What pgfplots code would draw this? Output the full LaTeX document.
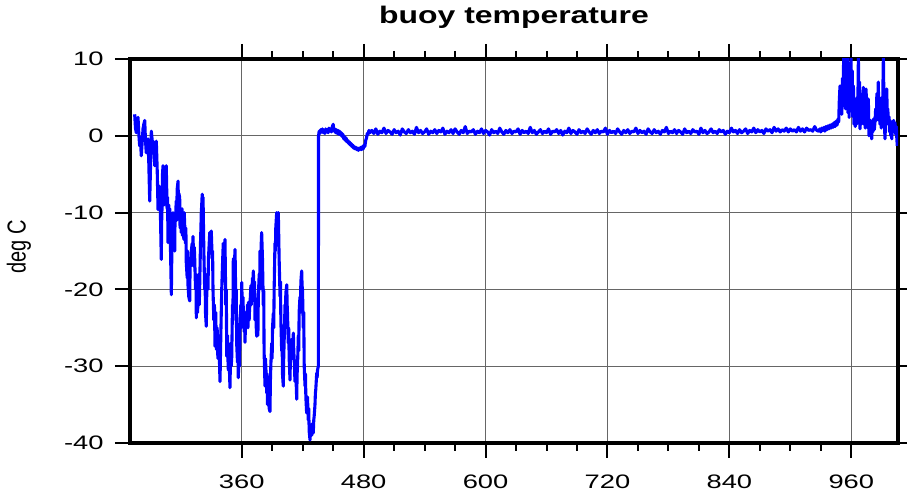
\documentclass[border=0pt]{standalone}
\usepackage{fontspec}
\setmainfont{Liberation Sans}
\newfontfamily\tickfont[FakeStretch=1.4]{Liberation Sans}
\newfontfamily\titlefont[FakeStretch=1.33]{Liberation Sans}
\usepackage{graphicx}
\usepackage{pgfplots}
\pgfplotsset{compat=1.18}
\begin{document}
\begin{tikzpicture}
\useasboundingbox (-130pt,-54pt) rectangle (777pt,443pt);
\begin{axis}[
  at={(0,0)}, anchor=south west,
  width=768pt, height=384pt, scale only axis,
  xmin=250, xmax=1006, ymin=-40, ymax=10,
  xtick={360,480,600,720,840,960},
  minor x tick num=3,
  ytick={-40,-30,-20,-10,0,10},
  grid=major,
  major grid style={black!60, line width=0.9pt},
  axis line style={line width=4pt, black},
  every tick/.style={line width=2pt, black},
  tick align=outside,
  major tick length=15pt,
  minor tick length=8pt,
  /pgf/number format/assume math mode=true,
  tick label style={font=\fontsize{19.5}{21}\selectfont\tickfont},
  xticklabel style={yshift=-13pt},
  yticklabel style={xshift=-8pt},
  title={buoy temperature},
  title style={font=\fontsize{24}{28}\selectfont\titlefont\bfseries, at={(axis description cs:0.5,1)}, anchor=base, yshift=29.7pt},
  ylabel={\scalebox{1}[1.3]{deg C}},
  ylabel style={font=\fontsize{20}{24}\selectfont, at={(axis description cs:-0.1445,0.51)}, anchor=center},
]
\addplot[blue, line width=3.1pt, line join=round] table {
x y
254.6 2.8
255.4 1.0
256.2 0.4
257.0 1.8
257.9 2.4
258.7 0.2
259.5 -1.3
260.3 -0.5
261.1 -2.6
262.0 -0.8
262.8 0.9
263.6 1.5
264.5 2.0
265.2 -0.5
266.0 -2.2
266.8 -1.0
267.7 -0.4
268.5 -3.5
269.4 -8.5
270.2 -4.0
271.0 0.6
271.8 -0.5
272.6 -1.7
273.5 -0.8
274.3 -3.9
275.1 -1.5
275.9 -0.7
276.8 -4.5
277.6 -9.6
278.4 -6.5
279.2 -7.0
280.0 -10.5
280.8 -16.1
281.2 -11.0
281.6 -9.0
282.0 -5.0
282.5 -3.9
283.3 -5.5
283.7 -9.0
284.1 -8.0
284.9 -5.0
285.3 -7.0
285.7 -3.9
286.5 -9.5
287.0 -8.0
287.4 -13.9
288.2 -9.0
288.6 -12.0
289.1 -9.5
289.9 -15.0
290.7 -20.7
291.1 -16.0
291.5 -14.0
292.3 -10.0
292.7 -14.0
293.2 -13.0
294.0 -15.0
294.4 -10.0
294.8 -11.0
295.5 -8.5
296.0 -11.0
296.4 -7.0
297.3 -5.9
297.7 -9.0
298.1 -7.5
298.9 -8.0
299.3 -12.0
299.7 -10.0
300.5 -12.6
301.3 -9.5
301.7 -13.0
302.2 -10.5
303.0 -13.5
303.4 -10.0
303.8 -11.5
304.6 -14.0
305.0 -12.0
305.4 -16.5
306.3 -18.5
306.7 -15.0
307.1 -19.5
307.9 -21.0
308.8 -21.5
309.2 -16.0
309.6 -17.0
310.4 -15.0
311.2 -14.0
311.6 -16.0
312.0 -13.1
312.9 -17.0
313.3 -14.5
313.7 -16.0
314.5 -20.0
314.9 -18.0
315.3 -23.7
316.1 -20.0
316.5 -23.0
316.9 -21.5
317.8 -18.0
318.2 -22.0
318.6 -19.5
319.4 -14.0
320.2 -10.0
321.1 -7.6
321.5 -9.0
321.9 -8.0
322.7 -15.0
323.5 -20.0
323.9 -18.0
324.3 -23.0
325.1 -24.8
325.5 -21.0
325.9 -18.0
326.8 -20.0
327.2 -16.0
327.6 -15.0
328.5 -12.6
329.2 -13.5
330.0 -12.4
330.9 -16.0
331.3 -15.0
331.7 -20.0
332.5 -24.0
333.1 -22.0
333.7 -27.4
334.4 -23.0
335.0 -27.8
335.8 -25.0
336.2 -28.0
336.6 -29.0
337.1 -26.0
337.6 -27.0
338.6 -32.0
339.0 -29.0
339.4 -26.0
340.3 -20.0
341.0 -17.0
341.8 -14.0
342.2 -18.0
342.6 -16.0
343.5 -13.5
344.3 -22.0
344.8 -20.0
345.2 -28.7
346.0 -26.0
346.4 -29.0
346.8 -30.5
347.6 -29.0
348.0 -31.0
348.4 -32.8
349.2 -27.0
349.6 -30.0
350.1 -29.0
350.9 -22.0
351.3 -24.0
351.7 -16.0
352.5 -18.0
353.0 -16.0
353.4 -14.8
354.2 -22.0
354.6 -20.0
355.0 -27.0
355.8 -29.5
356.2 -27.0
356.6 -31.5
357.4 -28.0
357.8 -30.0
358.3 -24.5
359.1 -22.0
359.5 -25.0
360.0 -19.1
360.8 -24.0
361.2 -21.0
361.5 -22.5
362.4 -25.5
362.8 -23.0
363.2 -26.9
364.0 -23.0
364.4 -25.0
364.9 -24.5
365.7 -22.0
366.1 -25.0
366.5 -21.7
367.3 -24.0
367.7 -22.5
368.1 -22.0
369.0 -19.5
369.4 -22.0
369.8 -21.0
370.6 -18.5
371.0 -20.0
371.4 -17.6
372.2 -21.0
372.6 -19.0
373.1 -24.0
373.9 -22.5
374.3 -25.0
374.7 -26.1
375.5 -24.0
375.9 -26.0
376.3 -21.0
377.2 -18.0
377.6 -20.0
378.0 -15.0
378.8 -16.0
379.2 -14.0
379.6 -12.6
380.4 -16.0
381.2 -22.0
381.6 -20.0
382.0 -28.0
382.9 -32.6
383.3 -29.0
383.7 -30.0
384.6 -33.5
385.0 -31.0
385.3 -35.0
386.1 -33.0
386.5 -34.5
387.0 -35.5
387.8 -35.9
388.2 -32.0
388.6 -30.0
389.5 -27.0
389.9 -29.0
390.3 -25.0
391.1 -23.1
391.5 -25.0
391.9 -20.0
392.7 -14.0
393.1 -15.0
393.5 -12.0
394.4 -10.0
394.8 -12.5
395.2 -11.0
396.0 -10.0
396.4 -13.0
396.8 -16.0
397.7 -20.9
398.1 -19.0
398.5 -24.0
399.3 -28.0
399.7 -26.0
400.1 -31.0
400.9 -32.6
401.3 -29.0
401.7 -27.0
402.6 -22.0
403.0 -24.0
403.4 -20.5
404.3 -19.4
404.7 -22.0
405.0 -23.0
405.8 -27.0
406.2 -25.0
406.7 -29.0
407.5 -31.8
407.9 -29.0
408.4 -28.0
409.2 -26.5
409.6 -29.0
410.0 -27.5
410.8 -25.7
411.2 -28.0
411.6 -29.0
412.4 -32.0
412.8 -30.0
413.3 -31.0
414.1 -34.3
414.5 -31.0
414.9 -30.0
415.7 -26.0
416.1 -28.0
416.5 -23.0
417.3 -21.0
417.7 -23.0
418.2 -19.0
419.0 -17.6
419.4 -19.5
419.8 -20.0
420.6 -25.0
421.0 -23.0
421.5 -30.0
422.3 -32.6
422.7 -31.0
423.1 -34.0
423.9 -36.1
424.3 -34.5
424.7 -34.0
425.5 -37.0
425.9 -35.5
426.4 -38.5
427.2 -39.6
427.6 -38.0
428.0 -38.5
428.9 -39.0
429.3 -37.5
429.6 -38.0
430.4 -38.7
430.9 -37.0
431.3 -36.5
432.1 -35.0
432.5 -33.5
432.9 -33.0
433.8 -30.9
434.2 -31.5
434.6 -30.5
435.4 -30.0
435.6 0.0
436.2 0.6
437.0 0.3
437.8 0.8
438.6 0.5
439.4 0.9
440.2 0.4
441.0 0.7
441.8 0.3
442.6 0.9
443.4 0.5
444.2 0.8
445.0 0.4
445.8 1.0
446.6 0.6
447.4 0.9
448.2 0.5
449.0 1.1
450.0 1.5
450.8 0.6
451.6 0.9
452.4 0.4
453.2 0.8
454.0 0.3
454.8 0.7
455.6 0.2
456.4 0.6
457.2 0.1
458.0 0.4
458.8 -0.1
459.6 0.2
460.4 -0.4
461.2 -0.1
462.0 -0.6
462.8 -0.3
463.6 -0.8
464.4 -0.6
465.2 -1.0
466.0 -0.8
466.8 -1.2
467.6 -1.0
468.4 -1.4
469.2 -1.2
470.0 -1.6
470.8 -1.4
471.6 -1.7
472.4 -1.5
473.2 -1.8
474.0 -1.6
474.8 -1.9
475.6 -1.6
476.4 -1.8
477.2 -1.5
478.0 -1.8
478.8 -1.4
479.6 -1.7
480.4 -1.2
481.2 -1.4
482.0 -0.6
482.8 -0.3
483.6 0.3
484.4 0.2
485.2 0.7
486 0.4
488 0.7
490 0.3
492 0.9
494 0.2
496 0.6
498 0.4
500 1.0
502 0.3
504 0.7
506 0.5
508 0.2
510 0.8
512 0.4
514 0.6
516 0.1
518 0.9
520 0.5
522 0.3
524 0.8
526 0.4
528 0.6
530 0.2
532 1.1
534 0.4
536 0.7
538 0.3
540 0.5
542 0.9
544 0.2
546 0.6
548 0.4
550 0.8
552 0.3
554 0.7
556 0.5
558 1.0
560 0.2
562 0.6
564 0.4
566 0.8
568 0.3
570 0.9
572 0.5
574 0.2
576 0.7
578 0.4
580 1.2
582 0.3
584 0.6
586 0.5
588 0.8
590 0.2
592 0.6
594 0.4
596 0.9
598 0.3
600 0.7
602 0.5
604 0.1
606 0.8
608 0.4
610 0.6
612 0.3
614 1.0
616 0.5
618 0.2
620 0.7
622 0.4
624 0.8
626 0.3
628 0.6
630 0.5
632 0.9
634 0.2
636 0.7
638 0.4
640 0.6
642 0.3
644 1.1
646 0.4
648 0.7
650 0.2
652 0.5
654 0.8
656 0.3
658 0.6
660 0.4
662 0.9
664 0.2
666 0.6
668 0.5
670 0.8
672 0.3
674 0.7
676 0.1
678 0.6
680 0.4
682 1.0
684 0.3
686 0.7
688 0.5
690 0.2
692 0.8
694 0.4
696 0.6
698 0.3
700 0.9
702 0.5
704 0.2
706 0.7
708 0.4
710 0.8
712 0.3
714 0.6
716 0.5
718 1.0
720 0.2
722 0.7
724 0.4
726 0.6
728 0.3
730 0.9
732 0.5
734 0.2
736 0.7
738 0.4
740 0.8
742 0.3
744 0.6
746 0.5
748 1.0
750 0.3
752 0.7
754 0.4
756 0.6
758 0.2
760 0.9
762 0.5
764 0.3
766 0.8
768 0.4
770 0.6
772 0.2
774 0.7
776 0.5
778 1.1
780 0.3
782 0.6
784 0.4
786 0.8
788 0.3
790 0.7
792 0.5
794 0.2
796 0.9
798 0.4
800 0.6
802 0.3
804 0.8
806 0.5
808 0.6
810 0.2
812 1.0
814 0.4
816 0.7
818 0.3
820 0.5
822 0.9
824 0.4
826 0.6
828 0.3
830 0.8
832 0.5
834 0.7
836 0.2
838 0.6
840 0.4
842 1.0
844 0.5
846 0.7
848 0.3
850 0.8
852 0.4
854 0.6
856 0.9
858 0.3
860 0.7
862 0.5
864 1.0
866 0.4
868 0.8
870 0.5
872 0.7
874 0.3
876 0.9
878 0.6
880 0.8
882 0.4
884 1.1
886 0.6
888 0.9
890 0.5
892 0.8
894 0.6
896 1.0
898 0.5
900 0.9
902 0.6
904 0.8
906 0.5
908 1.1
910 0.6
912 0.9
914 0.5
916 1.0
918 0.7
920 0.8
922 0.6
924 1.2
926 0.7
928 0.6
929 0.9
930 0.5
931 1.0
932 0.7
933 1.1
934 0.6
935 1.2
936 0.8
937 1.3
938 0.9
939 1.4
940 1.0
941 1.5
942 1.1
943 1.7
944 1.2
945 1.9
946 1.4
947 2.2
947.6 1.8
948.2 4.5
948.9 6.5
949.5 3.0
950.1 5.5
950.7 2.8
951.3 7.5
951.9 4.0
952.5 10.3
953.1 5.0
953.7 9.0
954.3 3.5
954.9 10.3
955.5 6.0
956.1 10.3
956.7 3.0
957.3 8.0
957.9 2.4
958.5 9.5
959.1 4.0
959.7 10.3
960.3 5.0
960.9 8.5
961.5 2.5
962.1 6.5
962.7 1.5
963.3 4.0
963.9 1.2
964.5 3.0
965.1 1.5
965.7 5.0
966.3 2.0
967.0 10.3
967.6 3.0
968.2 7.0
968.6 0.9
969.2 2.5
969.8 1.5
970.4 4.0
971.0 2.0
971.9 6.3
972.5 1.5
973.1 3.5
973.8 1.0
974.6 6.1
975.2 2.0
975.8 4.5
976.4 1.0
976.8 4.8
977.4 0.0
978.0 1.5
978.6 0.3
979.2 2.0
980.1 -0.4
980.7 1.5
981.3 0.5
982.0 2.2
982.7 0.8
983.4 1.9
984.0 3.5
984.6 2.0
985.2 5.5
985.8 2.5
986.6 7.0
987.2 2.0
987.8 4.5
988.3 1.5
988.9 3.0
989.5 1.0
990.1 5.0
990.8 3.0
991.6 10.3
992.2 4.0
992.8 1.0
993.2 -0.4
993.8 2.0
994.3 4.0
994.9 6.1
995.5 2.5
996.0 3.5
996.5 1.5
997.1 2.5
997.7 0.5
998.3 2.0
998.9 0.0
999.5 1.5
999.9 -0.4
1000.5 1.8
1001.1 0.5
1001.7 2.0
1002.3 1.0
1003.1 1.7
1003.7 0.2
1004.3 1.2
1004.9 -0.5
1005.3 -1.3
};
\end{axis}
\end{tikzpicture}
\end{document}
